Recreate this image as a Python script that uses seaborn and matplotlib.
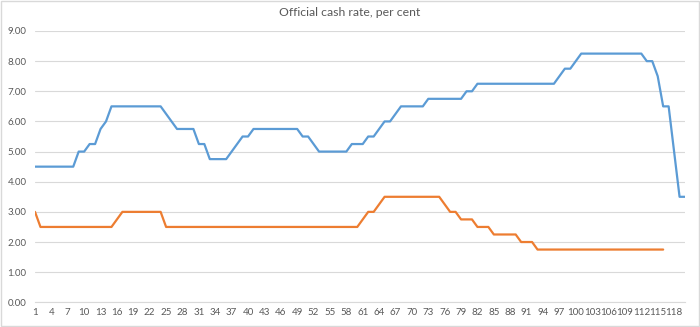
import matplotlib
matplotlib.use("Agg")
import matplotlib.pyplot as plt
import seaborn as sns
import pandas as pd
from matplotlib.patches import Rectangle

# ---- data ----
categories_blue = list(range(1, 121))
blue_values = [
    4.5, 4.5, 4.5, 4.5, 4.5, 4.5, 4.5, 4.5, 5.0, 5.0,
    5.25, 5.25, 5.75, 6.0, 6.5, 6.5, 6.5, 6.5, 6.5, 6.5,
    6.5, 6.5, 6.5, 6.5, 6.25, 6.0, 5.75, 5.75, 5.75, 5.75,
    5.25, 5.25, 4.75, 4.75, 4.75, 4.75, 5.0, 5.25, 5.5, 5.5,
    5.75, 5.75, 5.75, 5.75, 5.75, 5.75, 5.75, 5.75, 5.75, 5.5,
    5.5, 5.25, 5.0, 5.0, 5.0, 5.0, 5.0, 5.0, 5.25, 5.25,
    5.25, 5.5, 5.5, 5.75, 6.0, 6.0, 6.25, 6.5, 6.5, 6.5,
    6.5, 6.5, 6.75, 6.75, 6.75, 6.75, 6.75, 6.75, 6.75, 7.0,
    7.0, 7.25, 7.25, 7.25, 7.25, 7.25, 7.25, 7.25, 7.25, 7.25,
    7.25, 7.25, 7.25, 7.25, 7.25, 7.25, 7.5, 7.75, 7.75, 8.0,
    8.25, 8.25, 8.25, 8.25, 8.25, 8.25, 8.25, 8.25, 8.25, 8.25,
    8.25, 8.25, 8.0, 8.0, 7.5, 6.5, 6.5, 5.0, 3.5, 3.5,
]
categories_orange = list(range(1, 117))
orange_values = [
    3.0, 2.5, 2.5, 2.5, 2.5, 2.5, 2.5, 2.5, 2.5, 2.5,
    2.5, 2.5, 2.5, 2.5, 2.5, 2.75, 3.0, 3.0, 3.0, 3.0,
    3.0, 3.0, 3.0, 3.0, 2.5, 2.5, 2.5, 2.5, 2.5, 2.5,
    2.5, 2.5, 2.5, 2.5, 2.5, 2.5, 2.5, 2.5, 2.5, 2.5,
    2.5, 2.5, 2.5, 2.5, 2.5, 2.5, 2.5, 2.5, 2.5, 2.5,
    2.5, 2.5, 2.5, 2.5, 2.5, 2.5, 2.5, 2.5, 2.5, 2.5,
    2.75, 3.0, 3.0, 3.25, 3.5, 3.5, 3.5, 3.5, 3.5, 3.5,
    3.5, 3.5, 3.5, 3.5, 3.5, 3.25, 3.0, 3.0, 2.75, 2.75,
    2.75, 2.5, 2.5, 2.5, 2.25, 2.25, 2.25, 2.25, 2.25, 2.0,
    2.0, 2.0, 1.75, 1.75, 1.75, 1.75, 1.75, 1.75, 1.75, 1.75,
    1.75, 1.75, 1.75, 1.75, 1.75, 1.75, 1.75, 1.75, 1.75, 1.75,
    1.75, 1.75, 1.75, 1.75, 1.75, 1.75,
]
tick_labels = [str(v) for v in range(1, 119, 3)]
y_ticks = [0, 1, 2, 3, 4, 5, 6, 7, 8, 9]
title = "Official cash rate, per cent"

df = pd.concat([
    pd.DataFrame({"cat": categories_blue, "rate": blue_values, "series": "A"}),
    pd.DataFrame({"cat": categories_orange, "rate": orange_values, "series": "B"}),
], ignore_index=True)

sns.set_style("white")
plt.rcParams["font.family"] = ["Lato", "DejaVu Sans"]

text_color = "#595959"
grid_color = "#D9D9D9"

fig = plt.figure(figsize=(7.0, 3.27), dpi=100)
ax = fig.add_axes([0.05, 0.0755, 0.9286, 0.8297])

sns.lineplot(data=df, x="cat", y="rate", hue="series",
             palette={"A": "#5B9BD5", "B": "#ED7D31"},
             linewidth=1.6, legend=False, ax=ax, estimator=None)

ax.set_xlim(1, 120)
ax.set_ylim(0, 9)
ax.set_yticks(y_ticks)
ax.set_yticklabels([f"{v:.2f}" for v in y_ticks])
ax.set_xticks(list(range(1, 119, 3)))
ax.set_xticklabels(tick_labels)
ax.tick_params(axis="both", length=0, labelsize=7, colors=text_color, pad=4)
ax.tick_params(axis="y", pad=6)
ax.grid(axis="y", color=grid_color, linewidth=0.8)
ax.set_axisbelow(True)
for side in ["top", "right", "left"]:
    ax.spines[side].set_visible(False)
ax.spines["bottom"].set_color(grid_color)
ax.spines["bottom"].set_linewidth(0.8)
ax.set_xlabel("")
ax.set_ylabel("")

fig.text(0.5, 0.963, title, ha="center", va="center", fontsize=8.8, color=text_color)

fig.patches.append(Rectangle((0.001, 0.002), 0.997, 0.995, transform=fig.transFigure,
                             fill=False, edgecolor=grid_color, linewidth=1))

fig.savefig("out.png", dpi=100)
